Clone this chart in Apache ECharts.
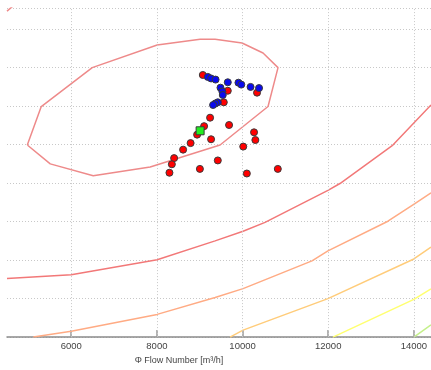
<!DOCTYPE html>
<html><head><meta charset="utf-8">
<script src="https://cdn.jsdelivr.net/npm/echarts@6/dist/echarts.min.js"></script>
<style>html,body{margin:0;padding:0;background:#fff}#c{width:431px;height:370px}</style>
</head><body><div id="c"></div>
<script>
// x tick labels (value axis)
const xTicks = [6000, 8000, 10000, 12000, 14000];
// efficiency island contour
const islandContour = [[4974,4.99],[5300,5.99],[6490,7.0],[8006,7.59],[9009,7.74],[9359,7.74],[9988,7.64],[10478,7.38],[10828,7.0],[10595,5.99],[9475,4.99],[7843,4.42],[6513,4.19],[5510,4.5],[4974,4.99]];
const cornerContour = [[4500,8.47],[4660,8.62]];
const contourRed = [[4500,1.52],[6000,1.62],[8006,2.01],[9359,2.5],[10012,2.75],[10525,2.98],[11994,3.81],[12274,3.99],[13510,4.99],[14400,6.03]];
const contourSalmon = [[5114,0],[6000,0.15],[8006,0.59],[9359,1.03],[10012,1.26],[11621,1.98],[11994,2.24],[13394,3.01],[14023,3.47],[14400,3.75]];
const contourOrange = [[9708,0],[10012,0.18],[11994,1.0],[14000,2.03],[14400,2.34]];
const contourYellow = [[12111,0],[14000,0.98],[14400,1.25]];
const contourGreen = [[14000,0],[14400,0.32]];
// measured points
const redPoints = [[9072,6.81],[9655,6.40],[10338,6.35],[9562,6.10],[9242,5.70],[9685,5.51],[9102,5.48],[8939,5.26],[10268,5.32],[10299,5.12],[9265,5.14],[8787,5.04],[10016,4.95],[8612,4.87],[8402,4.65],[9422,4.59],[8349,4.49],[9004,4.37],[8293,4.27],[10100,4.25],[10823,4.37]];
const bluePoints = [[9188,6.76],[9265,6.72],[9370,6.69],[9655,6.62],[9904,6.61],[9970,6.56],[10187,6.50],[10385,6.47],[9485,6.48],[9529,6.38],[9538,6.29],[9422,6.10],[9366,6.07],[9312,6.03]];
const greenPoint = [[9009,5.36]];

const chart = echarts.init(document.getElementById('c'), null, {renderer:'canvas'});
function line(data, color){
  return {type:'line', data:data, showSymbol:false, symbol:'none', smooth:false, animation:false,
    lineStyle:{color:color, width:1.5}, clip:true, silent:true, z:2};
}
function pts(data, color, symbol, size){
  return {type:'scatter', data:data, symbol:symbol, symbolSize:size, animation:false,
    itemStyle:{color:color, borderColor:'#3a3a3a', borderWidth:1, opacity:1}, z:5};
}
const gridLineSeries = {type:'line', data:[], silent:true, animation:false, z:1,
  markLine:{silent:true, symbol:['none','none'], animation:false, label:{show:false},
    lineStyle:{color:'#c8c8c8', type:[1,2], width:1},
    data: xTicks.map(function(v){return {xAxis:v};})}
};
chart.setOption({
  backgroundColor:'#fff',
  animation:false,
  grid:{left:7, right:0, top:8, bottom:29, containLabel:false},
  xAxis:{type:'value', min:4500, max:14400,
    name:'\u03a6 Flow Number [m\u00b3/h]', nameLocation:'middle', nameGap:17,
    nameTextStyle:{fontFamily:'Liberation Sans, Arial', fontSize:9, color:'#444', padding:[0,80,0,0]},
    axisLine:{lineStyle:{color:'#8a8a8a', width:1.5}},
    axisTick:{inside:true, length:7, customValues:xTicks, lineStyle:{color:'#9a9a9a', width:1.5}},
    axisLabel:{fontFamily:'Liberation Sans, Arial', fontSize:9.5, color:'#444', margin:4, customValues:xTicks,
      formatter:function(v){return String(v);}},
    splitLine:{show:false}
  },
  yAxis:{type:'value', min:0, max:8.55, interval:1,
    axisLine:{show:false}, axisTick:{show:false}, axisLabel:{show:false},
    splitLine:{show:true, lineStyle:{color:'#c8c8c8', type:[1,2], width:1}}
  },
  series:[
    gridLineSeries,
    line(islandContour,'#ee8a8a'),
    line(cornerContour,'#ee8a8a'),
    line(contourRed,'#f27878'),
    line(contourSalmon,'#ffab84'),
    line(contourOrange,'#ffcc7a'),
    line(contourYellow,'#ffff70'),
    line(contourGreen,'#c4f08a'),
    pts(redPoints,'#ff0000','circle',7),
    pts(bluePoints,'#0a0aee','circle',7),
    pts(greenPoint,'#22ee22','rect',8)
  ]
});
</script></body></html>
